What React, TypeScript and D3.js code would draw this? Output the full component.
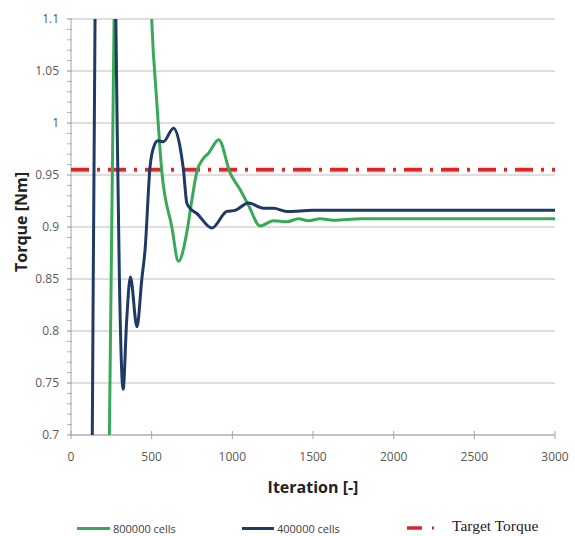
import React from 'react'
import * as d3 from 'd3'

// iteration, torque pairs (some points lie off the chart and are clipped)
const cells400kIter = [115, 132, 149, 215, 270, 285, 300, 323, 345, 368, 409, 439, 459, 490, 515, 538, 573, 635, 676, 697, 718, 738, 780, 873, 966, 1017, 1100, 1193, 1255, 1338, 1500, 1800, 2200, 2600, 3000]
const cells400kTorque = [0.3, 0.7, 1.1, 1.6, 1.2, 1.01, 0.85, 0.744, 0.81, 0.852, 0.804, 0.85, 0.878, 0.958, 0.978, 0.983, 0.982, 0.995, 0.977, 0.955, 0.923, 0.918, 0.913, 0.899, 0.915, 0.916, 0.923, 0.918, 0.918, 0.915, 0.916, 0.916, 0.916, 0.916, 0.916]

const cells800kIter = [220, 238, 267, 380, 480, 500, 531, 562, 625, 666, 717, 749, 780, 821, 852, 916, 986, 1048, 1100, 1172, 1255, 1338, 1410, 1472, 1545, 1627, 1800, 2200, 2600, 3000]
const cells800kTorque = [0.3, 0.7, 1.1, 1.7, 1.2, 1.1, 1.022, 0.955, 0.9, 0.867, 0.894, 0.926, 0.953, 0.966, 0.971, 0.984, 0.952, 0.936, 0.921, 0.901, 0.906, 0.905, 0.908, 0.906, 0.908, 0.9065, 0.908, 0.908, 0.908, 0.908]

const targetIter = [0, 3000]
const targetTorque = [0.955, 0.955]

const xTicks = [0, 500, 1000, 1500, 2000, 2500, 3000]
const yTicks = [0.7, 0.75, 0.8, 0.85, 0.9, 0.95, 1, 1.05, 1.1]
const yTickLabels = ['0.7', '0.75', '0.8', '0.85', '0.9', '0.95', '1', '1.05', '1.1']
const yMinorTicks = d3.range(70, 111).map(v => v / 100)

const legendItems = ['800000 cells', '400000 cells', 'Target Torque']

const W = 575
const H = 536
const left = 71
const right = 555
const top = 19
const bottom = 435

const sans = "'Open Sans', 'Noto Sans', sans-serif"

export default function App() {
  const x = d3.scaleLinear().domain([0, 3000]).range([left, right])
  const y = d3.scaleLinear().domain([0.7, 1.1]).range([bottom, top])

  const line = d3.line<[number, number]>()
    .x(d => x(d[0]))
    .y(d => y(d[1]))
    .curve(d3.curveMonotoneX)

  const zip = (a: number[], b: number[]) => a.map((v, i) => [v, b[i]] as [number, number])
  const blue = zip(cells400kIter, cells400kTorque)
  const green = zip(cells800kIter, cells800kTorque)
  const target = zip(targetIter, targetTorque)

  const greenCol = '#38aa57'
  const blueCol = '#1f3a66'
  const redCol = '#d6282b'
  const dash = '18,8,3,8'

  return (
    <svg width={W} height={H} style={{ position: 'absolute', left: 0, top: 0, background: '#fff' }}>
      <defs>
        <clipPath id="plot">
          <rect x={left} y={top} width={right - left} height={bottom - top} />
        </clipPath>
      </defs>

      {/* grid */}
      {yTicks.map(t => (
        <line key={t} x1={left - 4} x2={right} y1={y(t)} y2={y(t)} stroke="#bdbdbd" strokeWidth={1.2} />
      ))}

      {/* y axis */}
      <line x1={left} x2={left} y1={top} y2={bottom} stroke="#a6a6a6" />
      {yMinorTicks.map(t => (
        <line key={t} x1={left - 4} x2={left + 1} y1={y(t)} y2={y(t)} stroke="#b0b0b0" />
      ))}
      {yTicks.map((t, i) => (
        <text key={t} x={left - 12} y={y(t)} dy="0.35em" textAnchor="end"
          fontFamily={sans} fontSize={12} fill="#595959">{yTickLabels[i]}</text>
      ))}

      {/* x axis */}
      <line x1={left} x2={right} y1={bottom} y2={bottom} stroke="#a6a6a6" />
      {xTicks.map(t => (
        <g key={t}>
          <line x1={x(t)} x2={x(t)} y1={bottom - 4} y2={bottom + 4} stroke="#a6a6a6" />
          <text x={x(t)} y={bottom + 26} textAnchor="middle" fontFamily={sans} fontSize={12} fill="#595959">{t}</text>
        </g>
      ))}

      {/* series */}
      <g clipPath="url(#plot)">
        <path d={line(target) || ''} fill="none" stroke="#f3b0b0" strokeWidth={6} strokeDasharray={dash} opacity={0.6} />
        <path d={line(target) || ''} fill="none" stroke={redCol} strokeWidth={3.5} strokeDasharray={dash} />
        <path d={line(green) || ''} fill="none" stroke={greenCol} strokeWidth={3} />
        <path d={line(blue) || ''} fill="none" stroke={blueCol} strokeWidth={3} />
      </g>

      {/* titles */}
      <text x={(left + right) / 2} y={493} textAnchor="middle" fontFamily={sans} fontWeight="bold" fontSize={16} fill="#222">Iteration [-]</text>
      <text transform={`translate(27,${(top + bottom) / 2 - 5}) rotate(-90)`} textAnchor="middle"
        fontFamily={sans} fontWeight="bold" fontSize={16} fill="#222">Torque [Nm]</text>

      {/* legend */}
      <line x1={77} x2={110} y1={528.5} y2={528.5} stroke={greenCol} strokeWidth={3} />
      <text x={113} y={532.5} fontFamily={sans} fontSize={11} fill="#404040">{legendItems[0]}</text>
      <line x1={242} x2={274} y1={528.5} y2={528.5} stroke={blueCol} strokeWidth={3} />
      <text x={277} y={532.5} fontFamily={sans} fontSize={11} fill="#404040">{legendItems[1]}</text>
      <line x1={407} x2={422} y1={528} y2={528} stroke={redCol} strokeWidth={3.5} />
      <line x1={432} x2={434} y1={528} y2={528} stroke={redCol} strokeWidth={3} />
      <text x={452} y={531} fontFamily="'Liberation Serif', 'DejaVu Serif', serif" fontSize={15.5} fill="#222">{legendItems[2]}</text>
    </svg>
  )
}
